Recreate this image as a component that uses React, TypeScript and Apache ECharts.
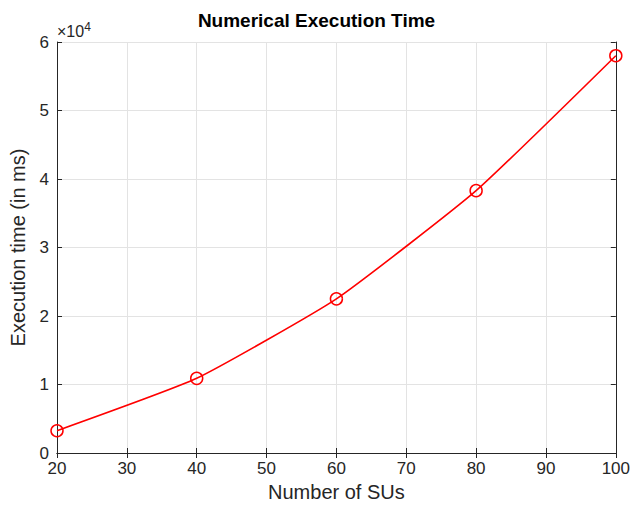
import React, { useEffect, useRef } from "react";
import * as echarts from "echarts";

const xValues = [20, 40, 60, 80, 100];
const execTime = [3250, 10900, 22500, 38300, 58000];
const yTicks = [0, 1, 2, 3, 4, 5, 6];

const FONT = "'Liberation Sans', Arial, Helvetica, sans-serif";
const AXIS_COLOR = "#262626";

export default function App() {
  const ref = useRef<HTMLDivElement>(null);
  useEffect(() => {
    if (!ref.current) return;
    const chart = echarts.init(ref.current, undefined, { renderer: "svg" });
    const boxAxis = {
      axisLine: { show: true, lineStyle: { color: AXIS_COLOR, width: 1 } },
      axisTick: { show: true, inside: true, length: 5, lineStyle: { color: AXIS_COLOR } },
      axisLabel: { show: false },
      splitLine: { show: false },
    };
    chart.setOption({
      animation: false,
      backgroundColor: "#ffffff",
      title: {
        text: "Numerical Execution Time",
        left: "center",
        top: 6,
        textStyle: { fontFamily: FONT, fontSize: 19, fontWeight: "bold", color: "#000" },
      },
      grid: { left: 57, right: 16, top: 42, bottom: 51 },
      xAxis: [
        {
          type: "value",
          min: 20,
          max: 100,
          interval: 10,
          name: "Number of SUs",
          nameLocation: "middle",
          nameGap: 29,
          nameTextStyle: { fontFamily: FONT, fontSize: 20, color: AXIS_COLOR },
          axisLine: { show: true, lineStyle: { color: AXIS_COLOR, width: 1 } },
          axisTick: { show: true, inside: true, length: 5, lineStyle: { color: AXIS_COLOR } },
          axisLabel: { fontFamily: FONT, fontSize: 17, color: AXIS_COLOR, margin: 7 },
          splitLine: { show: true, lineStyle: { color: "#e3e3e3", width: 1 } },
        },
        { type: "value", min: 20, max: 100, interval: 10, position: "top", ...boxAxis },
      ],
      yAxis: [
        {
          type: "value",
          min: 0,
          max: 60000,
          interval: 10000,
          name: "Execution time (in ms)",
          nameLocation: "middle",
          nameGap: 29,
          nameTextStyle: { fontFamily: FONT, fontSize: 20, color: AXIS_COLOR },
          axisLine: { show: true, lineStyle: { color: AXIS_COLOR, width: 1 } },
          axisTick: { show: true, inside: true, length: 5, lineStyle: { color: AXIS_COLOR } },
          axisLabel: {
            fontFamily: FONT,
            fontSize: 17,
            color: AXIS_COLOR,
            margin: 8,
            formatter: (v: number) => String(yTicks[Math.round(v / 10000)]),
          },
          splitLine: { show: true, lineStyle: { color: "#e3e3e3", width: 1 } },
        },
        { type: "value", min: 0, max: 60000, interval: 10000, position: "right", ...boxAxis },
      ],
      graphic: [
        {
          type: "text",
          left: 57,
          top: 21,
          style: {
            text: "×10{sup|4}",
            font: `16px ${FONT}`,
            fill: AXIS_COLOR,
            rich: { sup: { fontSize: 12, verticalAlign: "top", padding: [0, 0, 8, 0], fontFamily: FONT, fill: AXIS_COLOR } },
          } as any,
        },
      ],
      series: [
        {
          type: "line",
          data: xValues.map((x, i) => [x, execTime[i]]),
          smooth: 0.15,
          symbol: "circle",
          symbolSize: 12,
          itemStyle: { color: "rgba(0,0,0,0)", borderColor: "#ff0000", borderWidth: 1.5 },
          lineStyle: { color: "#ff0000", width: 1.6 },
        },
      ],
    });
    return () => chart.dispose();
  }, []);
  return <div ref={ref} style={{ position: "absolute", left: 0, top: 0, width: 633, height: 507 }} />;
}
